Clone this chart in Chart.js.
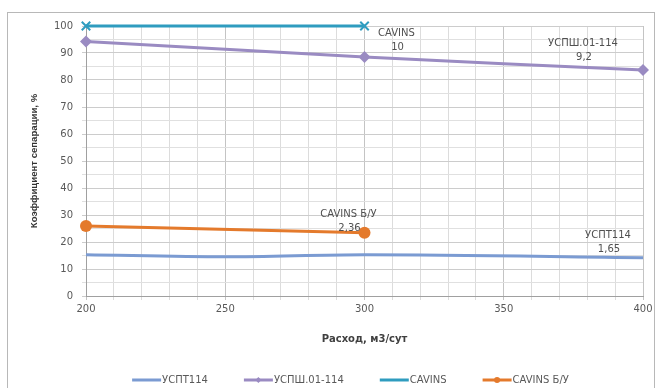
<!DOCTYPE html>
<html><head><meta charset="utf-8">
<script src="https://cdn.jsdelivr.net/npm/chart.js@4/dist/chart.umd.min.js"></script>
<style>
html,body{margin:0;padding:0;background:#fff;}
#wrap{position:relative;width:662px;height:388px;}
#frame{position:absolute;left:7px;top:12px;width:648px;height:380px;border:1px solid #b8b8b8;box-sizing:border-box;}
canvas{position:absolute;left:0;top:0;}
</style></head>
<body><div id="wrap"><div id="frame"></div><canvas id="c" width="662" height="388"></canvas></div>
<script>
const usptX = [200, 250, 300, 400];
const usptY = [15.3, 14.5, 15.3, 14.2];
const uspshX = [200, 300, 400];
const uspshY = [94.3, 88.5, 83.7];
const cavinsX = [200, 300];
const cavinsY = [100, 100];
const cavinsBuX = [200, 300];
const cavinsBuY = [25.9, 23.4];
const seriesNames = ['УСПТ114', 'УСПШ.01-114', 'CAVINS', 'CAVINS Б/У'];
const labelTexts = [['УСПТ114', '1,65'], ['УСПШ.01-114', '9,2'], ['CAVINS', '10'], ['CAVINS Б/У', '2,36']];
const xTickLabels = [200, 250, 300, 350, 400];
const yTickLabels = [0, 10, 20, 30, 40, 50, 60, 70, 80, 90, 100];

const colors = ['#7b9bd2', '#9a8bc2', '#2f9cbf', '#e47a2c'];
const pts = (xs, ys) => xs.map((x, i) => ({x: x, y: ys[i]}));

const labelAnchors = [
  {ds: 0, pt: 3, dx: -35, dy: -22},
  {ds: 1, pt: 2, dx: -60, dy: -27},
  {ds: 2, pt: 1, dx: 32, dy: 7},
  {ds: 3, pt: 1, dx: -16, dy: -18}
];

const FONT = "'DejaVu Sans', sans-serif";

const dataLabelPlugin = {
  id: 'dlabels',
  afterDatasetsDraw(chart) {
    const ctx = chart.ctx;
    ctx.save();
    ctx.font = '10px ' + FONT;
    ctx.fillStyle = '#505050';
    ctx.textAlign = 'center';
    ctx.textBaseline = 'middle';
    labelAnchors.forEach(a => {
      const el = chart.getDatasetMeta(a.ds).data[a.pt];
      const t = labelTexts[a.ds];
      ctx.fillText(t[0], el.x + a.dx, el.y + a.dy);
      ctx.fillText(t[1], el.x + a.dx + 1, el.y + a.dy + 14);
    });
    ctx.restore();
  }
};

const legendPlugin = {
  id: 'customLegend',
  afterDraw(chart) {
    const ctx = chart.ctx;
    ctx.save();
    ctx.font = '10px ' + FONT;
    ctx.textBaseline = 'middle';
    const y = 380;
    const lineLen = 29, gapText = 1, gapItem = 36;
    const items = chart.data.datasets.map(d => ({d, w: lineLen + gapText + ctx.measureText(d.label).width}));
    const total = items.reduce((s, it) => s + it.w, 0) + gapItem * (items.length - 1);
    let x = (chart.chartArea.left + chart.chartArea.right) / 2 - total / 2 - 14;
    items.forEach(it => {
      const d = it.d;
      ctx.strokeStyle = d.borderColor;
      ctx.lineWidth = 3;
      ctx.beginPath();
      ctx.moveTo(x, y);
      ctx.lineTo(x + lineLen, y);
      ctx.stroke();
      if (d.pointRadius > 0) {
        ctx.fillStyle = d.pointBackgroundColor;
        ctx.beginPath();
        const cx = x + lineLen / 2, r = 3;
        if (d.pointStyle === 'rectRot') {
          ctx.moveTo(cx, y - r); ctx.lineTo(cx + r, y); ctx.lineTo(cx, y + r); ctx.lineTo(cx - r, y); ctx.closePath(); ctx.fill();
        } else if (d.pointStyle === 'circle') {
          ctx.arc(cx, y, r, 0, Math.PI * 2); ctx.fill();
        }
      }
      ctx.fillStyle = '#595959';
      ctx.textAlign = 'left';
      ctx.fillText(d.label, x + lineLen + gapText, y);
      x += it.w + gapItem;
    });
    ctx.restore();
  }
};

new Chart(document.getElementById('c'), {
  type: 'line',
  data: {
    datasets: [
      {label: seriesNames[0], data: pts(usptX, usptY), borderColor: colors[0], backgroundColor: colors[0], borderWidth: 3, pointRadius: 0, tension: 0.4, cubicInterpolationMode: 'monotone', clip: false},
      {label: seriesNames[1], data: pts(uspshX, uspshY), borderColor: colors[1], backgroundColor: colors[1], pointBackgroundColor: colors[1], borderWidth: 3, pointStyle: 'rectRot', pointRadius: 6, pointBorderWidth: 0, tension: 0.3, clip: false},
      {label: seriesNames[2], data: pts(cavinsX, cavinsY), borderColor: colors[2], backgroundColor: colors[2], pointBackgroundColor: colors[2], borderWidth: 3, pointStyle: 'crossRot', pointRadius: 6, pointBorderWidth: 2, tension: 0, clip: false},
      {label: seriesNames[3], data: pts(cavinsBuX, cavinsBuY), borderColor: colors[3], backgroundColor: colors[3], pointBackgroundColor: colors[3], borderWidth: 3, pointStyle: 'circle', pointRadius: 6, pointBorderWidth: 0, tension: 0, clip: false}
    ]
  },
  options: {
    responsive: false,
    animation: false,
    layout: {padding: {top: 26, right: 19, left: 0, bottom: 0}},
    plugins: {legend: {display: false}, tooltip: {enabled: false}},
    scales: {
      x: {
        type: 'linear', min: 200, max: 400,
        afterFit(s) { s.height = 92; },
        ticks: {stepSize: 10, autoSkip: false, maxRotation: 0, padding: 3, color: '#595959', font: {size: 10, family: FONT},
          callback: v => xTickLabels.includes(v) ? String(v) : ''},
        grid: {color: ctx => (ctx.tick && ctx.tick.value % 50 === 0) ? '#c4c4c4' : '#dcdcdc', tickLength: 4, drawTicks: true},
        border: {color: '#a0a0a0'},
        title: {display: true, text: 'Расход, м3/сут', color: '#404040', font: {size: 10, weight: 'bold', family: FONT}, padding: {top: 0, bottom: 43}}
      },
      y: {
        min: 0, max: 100,
        afterFit(s) { s.width = 86; },
        ticks: {stepSize: 5, autoSkip: false, padding: 9, color: '#595959', font: {size: 10, family: FONT},
          callback: v => yTickLabels.includes(v) ? String(v) : ''},
        grid: {color: ctx => (ctx.tick && ctx.tick.value % 10 === 0) ? '#cccccc' : '#e0e0e0', tickLength: 4},
        border: {color: '#a0a0a0'},
        title: {display: true, text: 'Коэффициент сепарации, %', color: '#333333', font: {size: 9.6, weight: 'bold', family: "'Liberation Sans', Arial, sans-serif"}, padding: {top: 29, bottom: 0}}
      }
    }
  },
  plugins: [dataLabelPlugin, legendPlugin]
});
</script></body></html>
